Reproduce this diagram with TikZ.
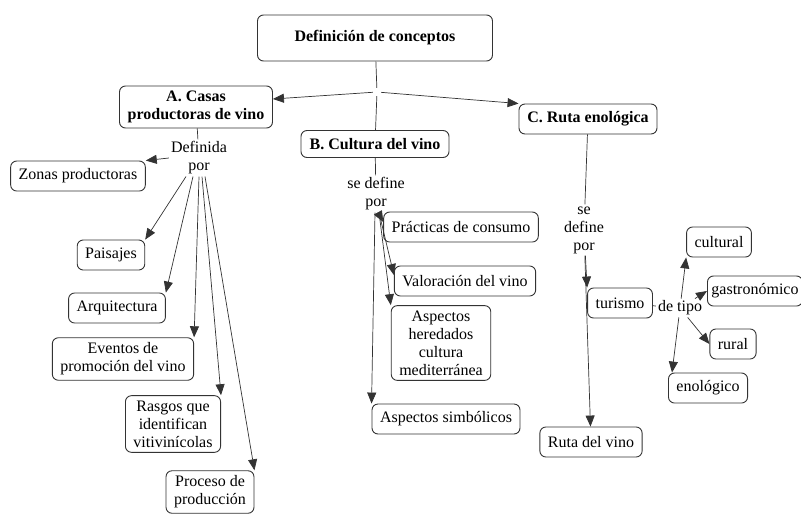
\documentclass[tikz,border=0pt]{standalone}
\usepackage{fontspec}
\setmainfont{Liberation Serif}
\usetikzlibrary{arrows.meta}

\begin{document}
\begin{tikzpicture}[
  x=1pt, y=-1pt,
  box/.style={draw=black!80, rounded corners=6pt, line width=0.9pt, align=center,
              inner xsep=8pt, inner ysep=5pt, minimum height=30pt,
              font=\fontsize{16}{18}\selectfont},
  head/.style={box, font=\bfseries\fontsize{16}{18}\selectfont},
  lbl/.style={align=center, inner sep=2pt, font=\fontsize{16}{18}\selectfont},
  lin/.style={line width=0.7pt, black!80},
  arr/.style={lin, -{Triangle[length=11pt,width=9pt]}}
]
  \useasboundingbox (0,0) rectangle (801,515);

  \node[head, minimum width=235pt, minimum height=46pt] (def) at (375,38) {Definición de conceptos};
  \node[inner sep=4pt] (j) at (377,92) {};
  \node[head, minimum width=153pt] (casas) at (196,107) {A. Casas\\productoras de vino};
  \node[head, minimum width=148pt, minimum height=27pt] (cult) at (375,144) {B. Cultura del vino};
  \node[head, minimum width=138pt, minimum height=30pt] (ruta) at (588,119) {C. Ruta enológica};

  \node[lbl] (defA) at (199,158) {Definida\\por};
  \node[box] (zon) at (78,176)  {Zonas productoras};
  \node[box] (pai) at (111,255) {Paisajes};
  \node[box] (arq) at (117,308) {Arquitectura};
  \node[box] (eve) at (123,359) {Eventos de\\promoción del vino};
  \node[box] (ras) at (173,424) {Rasgos que\\identifican\\vitivinícolas};
  \node[box] (pro) at (210,492) {Proceso de\\producción};

  \node[lbl] (defB) at (376,194) {se define\\por};
  \node[box] (pra) at (461,227) {Prácticas de consumo};
  \node[box] (val) at (465,281) {Valoración del vino};
  \node[box] (her) at (441,343) {Aspectos\\heredados\\cultura\\mediterránea};
  \node[box] (sim) at (446,419) {Aspectos simbólicos};

  \node[lbl] (defC) at (584,230) {se\\define\\por};
  \node[box] (tur) at (620,303) {turismo};
  \node[box] (rvi) at (591,442) {Ruta del vino};
  \node[lbl] (tipo) at (680,308) {de tipo};
  \node[box] (cul) at (719,242) {cultural};
  \node[box, anchor=west, inner xsep=4pt] (gas) at (707,291) {gastronómico};
  \node[box] (rur) at (733,344) {rural};
  \node[box] (eno) at (708,388) {enológico};

  \draw[lin] (def) -- (j);
  \draw[arr] (j) -- ([yshift=8pt]casas.east);
  \draw[lin] (j) -- (cult);
  \draw[arr] (j) -- (ruta.north west);

  \draw[lin] (casas) -- (defA);
  \draw[arr] (defA.west) -- (zon.north east);
  \draw[arr] ([xshift=-13pt]defA.south) -- (pai.north east);
  \draw[arr] ([xshift=-6pt]defA.south) -- (arq.north east);
  \draw[arr] (defA.south) -- (eve.north east);
  \draw[arr] ([xshift=3pt]defA.south) -- (ras.north east);
  \draw[arr] ([xshift=6pt]defA.south) -- (pro.north east);

  \draw[lin] (cult) -- (defB);
  \draw[arr] ([xshift=2pt]defB.south) -- ([yshift=5pt]pra.west);
  \draw[arr] ([xshift=3pt]defB.south) -- ([yshift=6pt]val.west);
  \draw[arr] ([xshift=3pt]defB.south) -- (her.north west);
  \draw[arr] ([xshift=-1pt]defB.south) -- (sim.north west);

  \draw[lin] (ruta) -- (defC);
  \draw[arr] (defC) -- (tur.north west);
  \draw[arr] (defC) -- (rvi);
  \draw[lin] (tur) -- (tipo);
  \draw[arr] (tipo) -- (cul.south west);
  \draw[arr] (tipo) -- (gas.west);
  \draw[arr] (tipo) -- (rur.west);
  \draw[arr] (tipo) -- ([xshift=4pt]eno.north west);
\end{tikzpicture}
\end{document}
